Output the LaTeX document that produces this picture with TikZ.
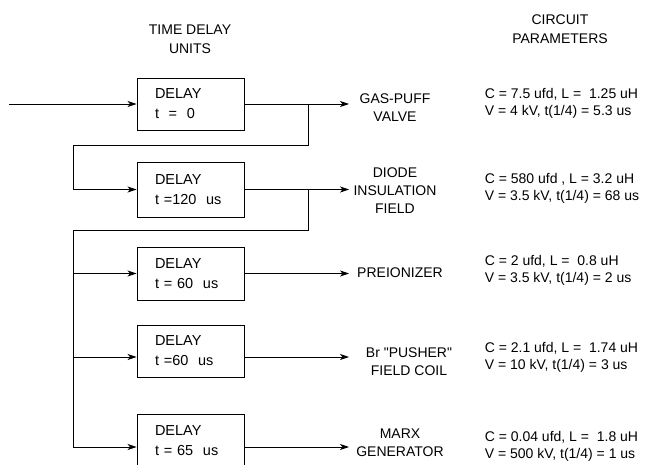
\documentclass[tikz,border=0pt]{standalone}
\usepackage{fontspec}
\newfontfamily\helv{Liberation Sans}
\usepackage{xcolor}
\usetikzlibrary{arrows.meta}

\begin{document}
\begin{tikzpicture}[x=1pt,y=-1pt,>={Stealth[length=9pt,width=6pt,inset=2.5pt]},line width=0.9pt,
  delaybox/.style={draw,rectangle,inner xsep=18pt,inner ysep=2pt,text width=71pt,align=left,font=\helv\fontsize{14.5}{20}\selectfont},
  head/.style={align=center,font=\helv\fontsize{14}{19}\selectfont},
  lbl/.style={align=center,font=\helv\fontsize{14}{18}\selectfont},
  param/.style={anchor=west,align=left,font=\helv\fontsize{14}{17}\selectfont}]
  \useasboundingbox (0,0) rectangle (666,465);
  % headings
  \node[head] (hdt) at (190,39.5) {TIME DELAY\\UNITS};
  \node[head] (hdc) at (560,29) {CIRCUIT\\PARAMETERS};
  % delay units
  \node[delaybox,minimum height=52pt] (b1) at (190.5,104) {DELAY\\t\ \ =\ \ 0};
  \node[delaybox,minimum height=55pt] (b2) at (190.5,189.5) {DELAY\\t =120\ \ us};
  \node[delaybox,minimum height=53pt] (b3) at (190.5,273.5) {DELAY\\t = 60\ \ us};
  \node[delaybox,minimum height=52pt] (b4) at (190.5,351) {DELAY\\t =60\ \ us};
  \node[delaybox,minimum height=54pt] (b5) at (190.5,441) {DELAY\\t = 65\ \ us};
  % loads
  \node[lbl] (l1) at (395,108) {GAS-PUFF\\VALVE};
  \node[lbl] (l2) at (395,191) {DIODE\\INSULATION\\FIELD};
  \node[lbl] (l3) at (400,273) {PREIONIZER};
  \node[lbl] (l4) at (409,362) {Br "PUSHER"\\FIELD COIL};
  \node[lbl] (l5) at (400,443) {MARX\\GENERATOR};
  % circuit parameters
  \node[param] (p1) at (481,103.5) {C = 7.5 ufd, L =\ \ 1.25 uH\\V = 4 kV, t(1/4) = 5.3 us};
  \node[param] (p2) at (481,188.5) {C = 580 ufd , L = 3.2 uH\\V = 3.5 kV, t(1/4) = 68 us};
  \node[param] (p3) at (481,270) {C = 2 ufd, L =\ \ 0.8 uH\\V = 3.5 kV, t(1/4) = 2 us};
  \node[param] (p4) at (481,357.5) {C = 2.1 ufd, L =\ \ 1.74 uH\\V = 10 kV, t(1/4) = 3 us};
  \node[param] (p5) at (481,446.5) {C = 0.04 ufd, L =\ \ 1.8 uH\\V = 500 kV, t(1/4) = 1 us};
  % helper points
  \coordinate (in) at (9,104);
  \coordinate (bus) at (73,0);
  \coordinate (jx) at (308,0);
  \coordinate (tip) at (349,0);
  \coordinate (i4) at ([yshift=-6pt]b4.west);
  \coordinate (i5) at ([yshift=-6pt]b5.west);
  \coordinate (o4) at ([yshift=-6pt]b4.east);
  \coordinate (o5) at ([yshift=-6pt]b5.east);
  % trigger chain
  \draw[->] (in) -- (b1.west);
  \draw[->] (b1.east -| jx) |- (73,145) |- (b2.west);
  \draw (b2.east -| jx) |- (73,230) -- (i5 -| bus);
  \draw[->] (b3.west -| bus) -- (b3.west);
  \draw[->] (i4 -| bus) -- (i4);
  \draw[->] (i5 -| bus) -- (i5);
  % outputs
  \draw[->] (b1.east) -- (b1.east -| tip);
  \draw[->] (b2.east) -- (b2.east -| tip);
  \draw[->] (b3.east) -- (b3.east -| tip);
  \draw[->] (o4) -- (o4 -| tip);
  \draw[->] (o5) -- (o5 -| tip);
\end{tikzpicture}
\end{document}
